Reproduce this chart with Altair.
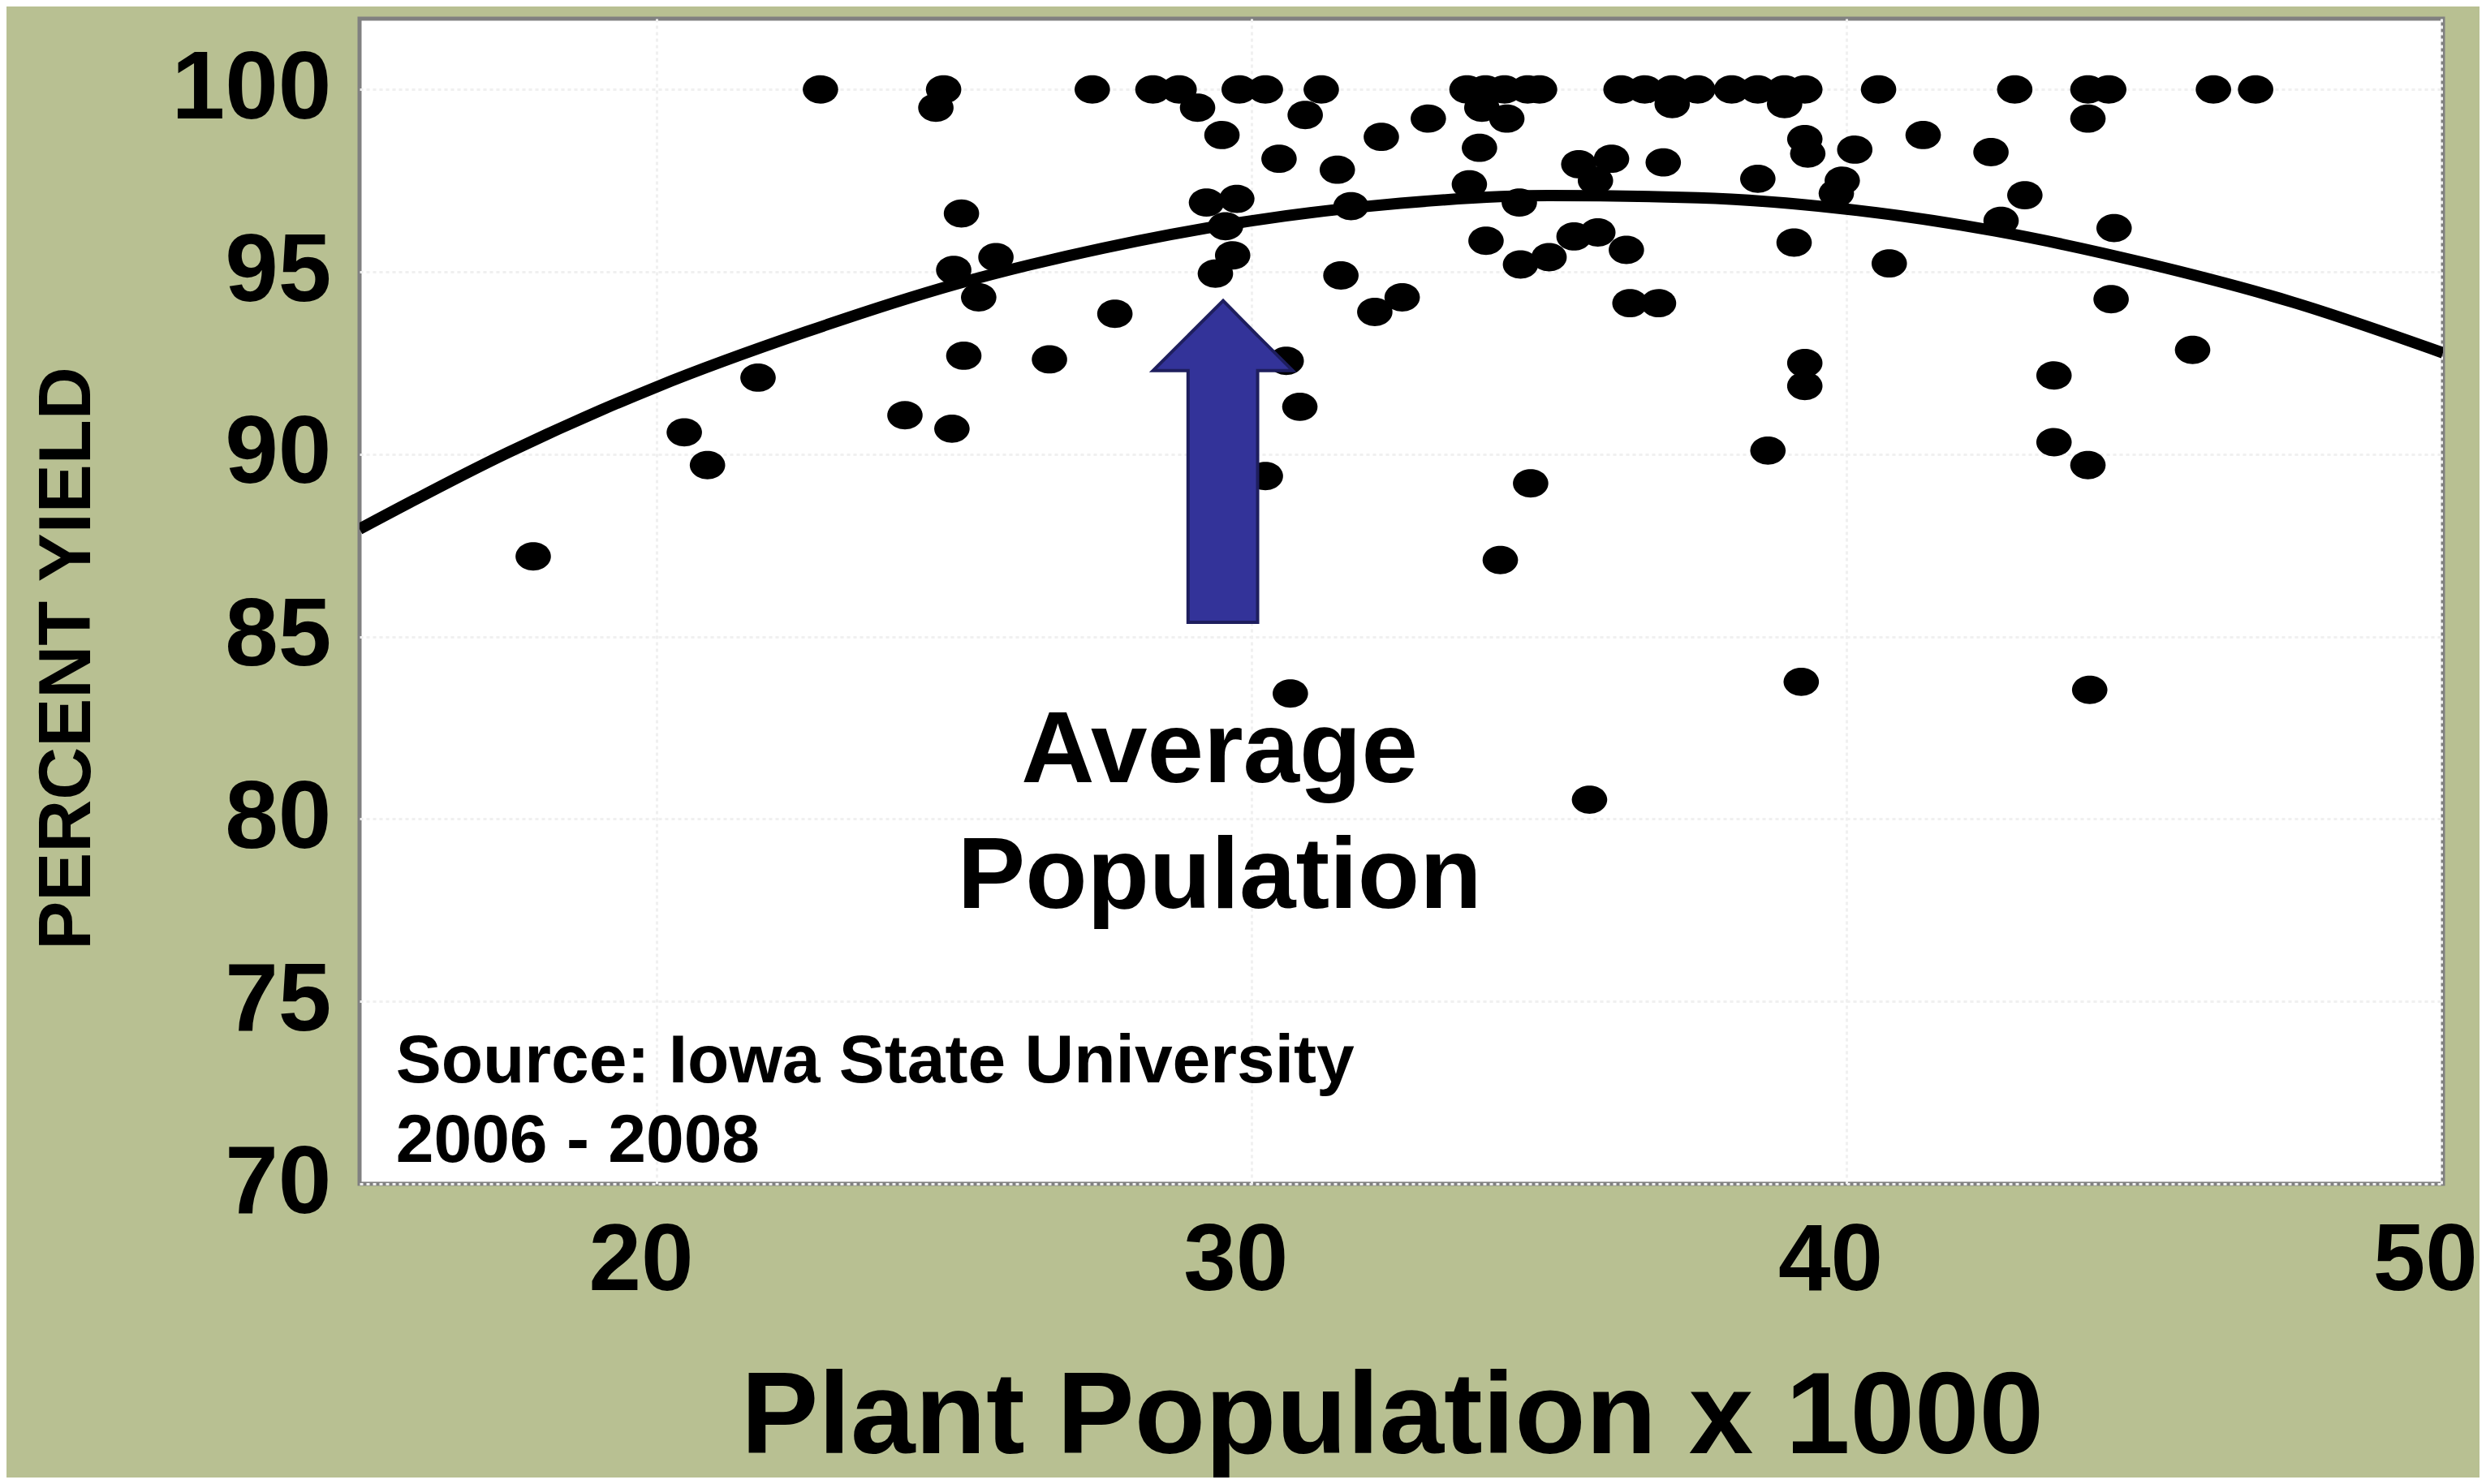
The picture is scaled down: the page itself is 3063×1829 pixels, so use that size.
import altair as alt
import pandas as pd

# ---- scatter data (plant population x1000, percent yield) ----
pop = [22.75, 24.82, 27.32, 28.34, 28.78, 29.79, 30.23, 31.17, 33.62, 33.93, 34.25, 34.64, 34.84,
       36.21, 36.61, 37.07, 37.5, 38.07, 38.51, 38.96, 39.30, 40.54, 42.83, 44.06, 44.41, 46.17, 46.88,
       24.69, 29.09, 30.9, 33.87, 34.29, 37.07, 38.96, 44.06, 29.5, 30.46, 31.44, 32.18, 32.97, 33.83,
       33.66, 34.5, 35.5, 36.05, 35.78, 36.92, 39.3, 39.35, 40.14, 41.29, 42.43, 38.51, 39.93, 39.83,
       43.0, 42.6, 44.5,
       25.12, 24.99, 25.7, 25.41, 25.16, 26.6, 21.7, 20.46, 20.85, 24.17, 24.96, 17.92,
       29.24, 29.75, 29.56, 29.68, 29.39, 31.67, 27.7, 31.5, 32.07, 32.53, 33.94, 34.52, 35.0, 35.42,
       35.82, 36.3, 36.36, 36.84, 30.58, 30.81, 30.23, 34.69, 34.18,
       39.12, 40.72, 44.45, 45.82, 39.3, 39.3, 43.49, 43.49, 44.06, 38.68,
       30.65, 39.24, 44.09, 35.68]
yld = [100.0, 100.0, 100.0, 100.0, 100.0, 100.0, 100.0, 100.0, 100.0, 100.0, 100.0, 100.0, 100.0,
       100.0, 100.0, 100.0, 100.0, 100.0, 100.0, 100.0, 100.0, 100.0, 100.0, 100.0, 100.0, 100.0, 100.0,
       99.5, 99.5, 99.3, 99.5, 99.2, 99.6, 99.6, 99.2, 98.75, 98.1, 97.8, 98.7, 99.2, 98.4,
       97.4, 96.9, 97.95, 98.1, 97.5, 98.0, 98.64, 98.24, 98.35, 98.75, 98.28, 97.55, 97.5, 97.15,
       97.1, 96.4, 96.2,
       96.6, 95.05, 95.4, 94.3, 92.7, 92.6, 92.1, 90.6, 89.7, 91.07, 90.7, 87.2,
       96.9, 97.0, 96.25, 95.45, 94.95, 96.8, 93.85, 94.9, 93.9, 94.3, 95.85, 95.2, 95.4, 95.97,
       96.08, 95.6, 94.14, 94.14, 92.56, 91.3, 89.4, 89.2, 87.1,
       95.8, 95.23, 94.25, 92.86, 92.5, 91.87, 92.16, 90.33, 89.7, 90.1,
       83.44, 83.76, 83.54, 80.53]

# ---- fitted curve ----
curve_pop = [15, 17.5, 20, 22.5, 25, 27.5, 30, 32.5, 35, 37.5, 40, 42.5, 45, 47.5, 50.03]
curve_yld = [87.95, 90.05, 91.85, 93.35, 94.65, 95.65, 96.4, 96.88, 97.09, 97.03, 96.72, 96.12, 95.25, 94.17, 92.78]

# ---- arrow outline vertices (data units) ----
arrow_x = [28.34, 28.93, 28.9301, 29.52, 30.0999, 30.10, 30.69]
arrow_top = [92.29, 93.25, 93.25, 94.21, 93.25, 93.25, 92.29]
arrow_bottom = [92.29, 92.29, 85.39, 85.39, 85.39, 92.29, 92.29]

# ---- annotations ----
avg_text = ["Average", "Population"]
avg_x = [29.46, 29.46]
avg_y = [81.01, 77.56]
src_text = ["Source: Iowa State University", "2006 - 2008"]
src_x = [15.61, 15.61]
src_y = [72.78, 70.6]

x_ticks = [20, 30, 40, 50]
y_ticks = [70, 75, 80, 85, 90, 95, 100]

FONT = "Liberation Sans"
X_DOM = [15, 50.03]
Y_DOM = [70, 101.94]

xs = alt.Scale(domain=X_DOM, nice=False, zero=False)
ys = alt.Scale(domain=Y_DOM, nice=False, zero=False)

pts = pd.DataFrame({"pop": pop, "yld": yld})
curve = pd.DataFrame({"pop": curve_pop, "yld": curve_yld})
arrow = pd.DataFrame({"pop": arrow_x, "top": arrow_top, "bottom": arrow_bottom})
avg = pd.DataFrame({"pop": avg_x, "yld": avg_y, "t": avg_text})
src = pd.DataFrame({"pop": src_x, "yld": src_y, "t": src_text})

x_axis = alt.Axis(values=x_ticks, format="d", title="Plant Population x 1000", labelFont=FONT,
                  labelFontSize=116, labelFontWeight="bold", labelColor="black", labelPadding=38,
                  labelOffset=-20, labelLimit=0, ticks=False, tickSize=0,
                  domain=False, grid=True, gridColor="#f0f0f0", gridDash=[4, 4], gridWidth=3,
                  titleFont=FONT, titleFontSize=143, titleFontWeight="bold", titleColor="black",
                  titleX=1272, titleY=331, titleAlign="center", titleBaseline="alphabetic",
                  titleLimit=0, labelFlush=False)
y_axis = alt.Axis(values=y_ticks, format="d", title="PERCENT YIELD", labelFont=FONT, labelFontSize=118,
                  labelFontWeight="bold", labelColor="black", labelPadding=35, labelLimit=0,
                  ticks=False, tickSize=0,
                  domain=False, grid=True, gridColor="#f0f0f0", gridDash=[4, 4], gridWidth=3,
                  titleFont=FONT, titleFontSize=90, titleFontWeight="bold", titleColor="black",
                  titleX=-360, titleY=788, titleAlign="center", titleBaseline="middle", titleAngle=270,
                  titleLimit=0, labelFlush=False)

base_pts = alt.Chart(pts).mark_point(
    shape="M-1,0A1,0.8,0,1,1,1,0A1,0.8,0,1,1,-1,0Z", filled=True, fill="black",
    opacity=1, size=1900
).encode(
    x=alt.X("pop:Q", scale=xs, axis=x_axis),
    y=alt.Y("yld:Q", scale=ys, axis=y_axis),
)

line = alt.Chart(curve).mark_line(color="black", strokeWidth=14, interpolate="monotone", clip=True).encode(
    x=alt.X("pop:Q", scale=xs), y=alt.Y("yld:Q", scale=ys)
)

arr = alt.Chart(arrow).mark_area(fill="#333399", stroke="#1e1e5e", strokeWidth=4, opacity=1,
                                 interpolate="linear").encode(
    x=alt.X("pop:Q", scale=xs), y=alt.Y("top:Q", scale=ys), y2="bottom:Q"
)

avg_t = alt.Chart(avg).mark_text(font=FONT, fontSize=125, fontWeight="bold", color="black",
                                 align="center", baseline="alphabetic").encode(
    x=alt.X("pop:Q", scale=xs), y=alt.Y("yld:Q", scale=ys), text="t:N"
)

src_t = alt.Chart(src).mark_text(font=FONT, fontSize=84, fontWeight="bold", color="black",
                                 align="left", baseline="alphabetic").encode(
    x=alt.X("pop:Q", scale=xs), y=alt.Y("yld:Q", scale=ys), text="t:N"
)

chart = alt.layer(line, base_pts, arr, avg_t, src_t).properties(
    width=2567, height=1436,
    autosize=alt.AutoSizeParams(type="none"),
    padding={"left": 435, "top": 15, "right": 45, "bottom": 362},
    background="#B8C092",
).configure_view(fill="white", stroke="#808080", strokeWidth=5)

chart.save("out.html", embed_options={"renderer": "svg", "actions": False})
